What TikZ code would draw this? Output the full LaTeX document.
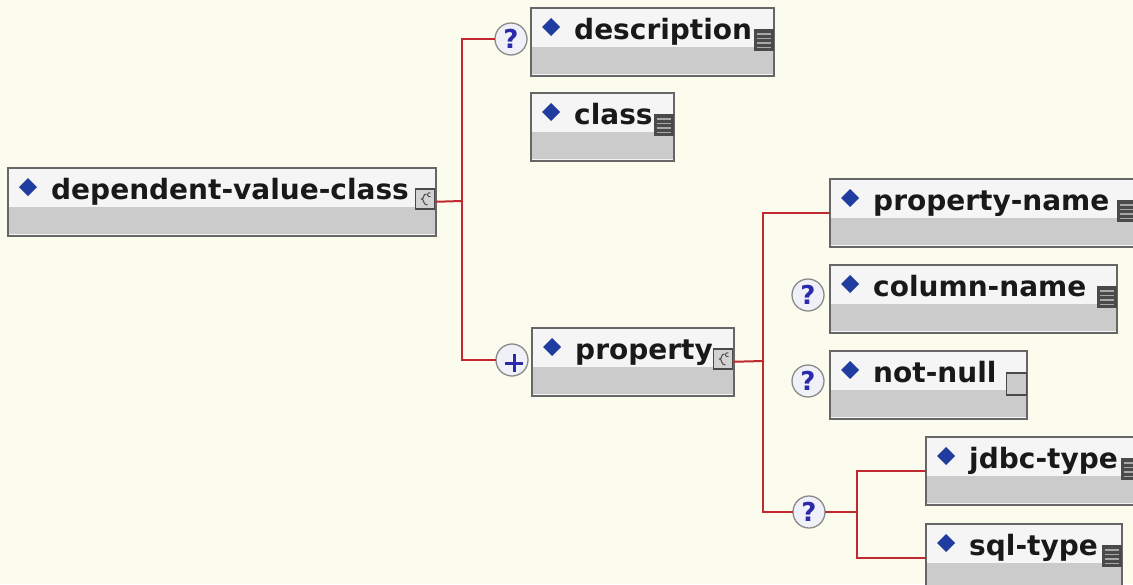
\documentclass[tikz,border=0pt]{standalone}
\usepackage{fontspec}
\setmainfont{DejaVu Sans}
\definecolor{bgc}{HTML}{FCFCEE}
\definecolor{conncol}{HTML}{C0292D}
\definecolor{boxborder}{HTML}{666666}
\definecolor{boxtop}{HTML}{F5F5F5}
\definecolor{bandc}{HTML}{CBCBCB}
\definecolor{diamc}{HTML}{1F3C9E}
\definecolor{icondark}{HTML}{4A4A4A}
\definecolor{iconline}{HTML}{A8A8A8}
\definecolor{iconlight}{HTML}{D2D2D2}
\definecolor{qblue}{HTML}{2A2AAA}
\definecolor{circfill}{HTML}{F0F0F8}
\definecolor{circborder}{HTML}{8A8A8A}
\tikzset{
  elem/.style={draw=boxborder, line width=1.5pt, fill=boxtop, rectangle,
    minimum height=68pt, inner sep=0pt, anchor=north west},
  band/.style={fill=bandc},
  diam/.style={fill=diamc},
  lbl/.style={anchor=base west, inner sep=0pt, text=black!90,
    font=\fontsize{28}{30}\selectfont\bfseries},
  conn/.style={draw=conncol, line width=2pt, line cap=rect},
  opt/.style={circle, draw=circborder, line width=1.3pt, fill=circfill,
    minimum size=32pt, inner sep=0pt, text=qblue,
    font=\fontsize{26}{26}\selectfont\bfseries},
}
\newcommand\iconsimple[1]{%
  \fill[icondark] ([shift={(-21pt,-22pt)}]#1.north east) rectangle ([shift={(-1pt,-44pt)}]#1.north east);
  \foreach \o in {27,31.5,36,40.5}
    \draw[iconline, line width=1.4pt] ([shift={(-18pt,-\o pt)}]#1.north east) -- ([shift={(-4pt,-\o pt)}]#1.north east);
}
\newcommand\iconcomplex[1]{%
  \filldraw[fill=iconlight, draw=icondark, line width=1.3pt] ([shift={(-21pt,-22pt)}]#1.north east) rectangle ([shift={(-2pt,-42pt)}]#1.north east);
  \draw[icondark, line width=1pt] ([shift={(-10pt,-27pt)}]#1.north east) .. controls ([shift={(-14pt,-27pt)}]#1.north east) and ([shift={(-12pt,-32pt)}]#1.north east) .. ([shift={(-15pt,-32pt)}]#1.north east) .. controls ([shift={(-12pt,-32pt)}]#1.north east) and ([shift={(-14pt,-38pt)}]#1.north east) .. ([shift={(-9pt,-38pt)}]#1.north east);
  \draw[icondark, line width=0.9pt] ([shift={(-6pt,-26pt)}]#1.north east) arc[start angle=60, end angle=300, radius=2pt];
}
\newcommand\iconempty[1]{%
  \filldraw[fill=bandc, draw=icondark, line width=1.3pt] ([shift={(-21pt,-23pt)}]#1.north east) rectangle ([shift={(-1pt,-45pt)}]#1.north east);
}
\newcommand\elbox[6]{%
  \node[elem, minimum width=#4pt] (#1) at (#2,#3) {};
  \fill[band] ([shift={(2pt,-40pt)}]#1.north west) rectangle ([shift={(-2pt,3pt)}]#1.south east);
  \fill[diam] ([shift={(21pt,-11pt)}]#1.north west) -- ++(9pt,-9pt) -- ++(-9pt,-9pt) -- ++(-9pt,9pt) -- cycle;
  \node[lbl] (#1-t) at ([shift={(44pt,-32pt)}]#1.north west) {#5};
  \csname icon#6\endcsname{#1}%
}
\begin{document}
\begin{tikzpicture}[x=1pt,y=-1pt]
\useasboundingbox (0,0) rectangle (1133,584);
\clip (0,0) rectangle (1133,584);
\fill[bgc] (0,0) rectangle (1133,584);

\elbox{main}{7}{167}{428}{dependent-value-class}{complex}
\elbox{desc}{530}{7}{243}{description}{simple}
\elbox{cls}{530}{92}{143}{class}{simple}
\elbox{prop}{531}{327}{202}{property}{complex}
\elbox{pname}{829}{178}{307}{property-name}{simple}
\elbox{cname}{829}{264}{287}{column-name}{simple}
\elbox{nnull}{829}{350}{197}{not-null}{empty}
\elbox{jdbc}{925}{436}{215}{jdbc-type}{simple}
\elbox{sql}{925}{523}{196}{sql-type}{simple}

\node[opt] (q1) at (511,39) {?};
\node[opt] (plus) at (512,360) {};
\draw[qblue, line width=3pt] ([shift={(-7pt,-3pt)}]plus.center) -- ([shift={(11pt,-3pt)}]plus.center);
\draw[qblue, line width=3pt] ([shift={(2pt,6pt)}]plus.center) -- ([shift={(2pt,-12pt)}]plus.center);
\node[opt] (q2) at (808,295) {?};
\node[opt] (q3) at (808,381) {?};
\node[opt] (ch) at (809,512) {?};

\coordinate (j1) at (462,201);
\draw[conn] (main.east) -- (j1);
\draw[conn] (j1 |- q1.west) -- (j1 |- plus.west);
\draw[conn] (j1 |- q1.west) -- (q1.west);
\draw[conn] (j1 |- plus.west) -- (plus.west);

\coordinate (j2) at (763,361);
\draw[conn] (prop.east) -- (j2);
\draw[conn] (j2 |- pname.west) -- (j2 |- ch.west);
\draw[conn] (j2 |- pname.west) -- (pname.west);
\draw[conn] (j2 |- ch.west) -- (ch.west);

\coordinate (j3) at (857,512);
\draw[conn] (ch.east) -- (j3);
\draw[conn] (j3 |- jdbc.west) -- (j3 |- sql.west);
\draw[conn] (j3 |- jdbc.west) -- (jdbc.west);
\draw[conn] (j3 |- sql.west) -- (sql.west);
\end{tikzpicture}
\end{document}
